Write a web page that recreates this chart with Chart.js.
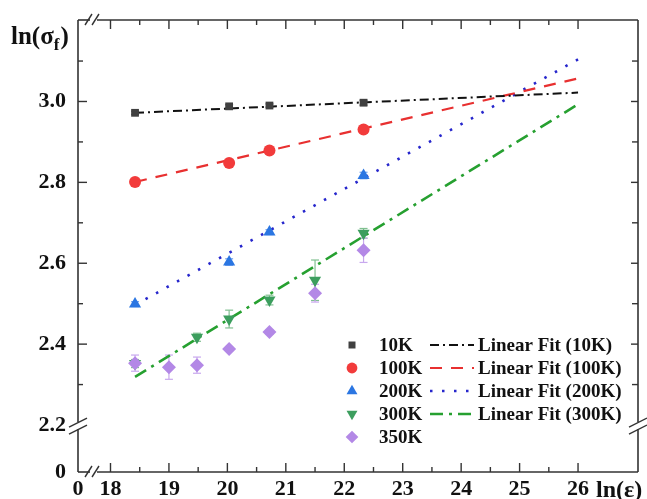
<!DOCTYPE html>
<html><head><meta charset="utf-8">
<script src="https://cdn.jsdelivr.net/npm/chart.js@4.4.1/dist/chart.umd.min.js"></script>
<style>html,body{margin:0;padding:0;background:#fff;overflow:hidden}#wrap{width:647px;height:499px;position:relative}</style>
</head><body><div id="wrap"><canvas id="c" width="647" height="499"></canvas></div>
<script>
// ---------- data ----------
const seriesNames = ['10K', '100K', '200K', '300K', '350K'];
const strainX    = [18.42, 20.03, 20.72, 22.33];
const strainX300 = [18.42, 19.48, 20.03, 20.72, 21.50, 22.33];
const strainX350 = [18.42, 19.00, 19.48, 20.03, 20.72, 21.50, 22.33];
const s10K  = [2.972, 2.988, 2.990, 2.997];
const s100K = [2.801, 2.848, 2.879, 2.931];
const s200K = [2.499, 2.603, 2.677, 2.817];
const s300K = [2.352, 2.417, 2.462, 2.509, 2.558, 2.674];
const s350K = [2.353, 2.343, 2.348, 2.388, 2.430, 2.526, 2.632];
const e10K  = [0.004, 0.004, 0.004, 0.006];
const e100K = [0.005, 0.005, 0.005, 0.006];
const e200K = [0.006, 0.008, 0.006, 0.008];
const e300K = [0.010, 0.010, 0.022, 0.012, 0.050, 0.012];
const e350K = [0.020, 0.030, 0.020, 0.006, 0.006, 0.022, 0.030];
const fitNames = ['Linear Fit (10K)', 'Linear Fit (100K)', 'Linear Fit (200K)', 'Linear Fit (300K)'];
const fitX    = [18.42, 26.0];
const fit10K  = [2.972, 3.022];
const fit100K = [2.801, 3.057];
const fit200K = [2.497, 3.104];
const fit300K = [2.319, 2.993];
const xTicks = [18, 19, 20, 21, 22, 23, 24, 25, 26];
const xMinorTicks = [18.5, 19.5, 20.5, 21.5, 22.5, 23.5, 24.5, 25.5];
const yTicks = [2.2, 2.4, 2.6, 2.8, 3.0];
const yMinorTicks = [2.3, 2.5, 2.7, 2.9, 3.1];
const axisBreakLabel = '0';
const xRange = [17.444, 27.026];
const yRange = [2.0838, 3.2015];

// ---------- styles ----------
const FONT = "'Liberation Serif','Times New Roman',serif";
const markerStyles = [
  {color: '#404040', style: 'rect', radius: 5.5, rot: 0},
  {color: '#f23b3b', style: 'circle', radius: 6, rot: 0},
  {color: '#2b76e2', style: 'triangle', radius: 7, rot: 0},
  {color: '#3c9e5e', style: 'triangle', radius: 7, rot: 180},
  {color: '#b388e6', style: 'rectRot', radius: 7, rot: 0}
];
const fitStyles = [
  {color: '#111111', dash: [9, 4, 2, 4], width: 2},
  {color: '#e83030', dash: [12, 9], width: 2.2},
  {color: '#2626cc', dash: [2.5, 9.5], width: 2.6},
  {color: '#26a030', dash: [13, 6, 3, 6], width: 2.6}
];
const errColors = ['#707070', '#f07070', '#70a0ee', '#80c090', '#c8a8ee'];

const xs = [strainX, strainX, strainX, strainX300, strainX350];
const ys = [s10K, s100K, s200K, s300K, s350K];
const es = [e10K, e100K, e200K, e300K, e350K];
const fits = [fit10K, fit100K, fit200K, fit300K];

const datasets = [];
seriesNames.forEach((n, i) => {
  const m = markerStyles[i];
  datasets.push({
    type: 'scatter', label: n,
    data: xs[i].map((x, j) => ({x: x, y: ys[i][j]})),
    pointStyle: m.style, pointRadius: m.radius, pointRotation: m.rot,
    backgroundColor: m.color, borderColor: m.color, pointBorderWidth: 0,
    order: 4 - i, errIdx: i
  });
});
fitNames.forEach((n, i) => {
  const f = fitStyles[i];
  datasets.push({
    type: 'line', label: n,
    data: fitX.map((x, j) => ({x: x, y: fits[i][j]})),
    borderColor: f.color, borderWidth: f.width, borderDash: f.dash,
    pointRadius: 0, fill: false, tension: 0, order: 10 + i
  });
});

function drawSeg(ctx, x1, y1, x2, y2) { ctx.beginPath(); ctx.moveTo(x1, y1); ctx.lineTo(x2, y2); ctx.stroke(); }

const errorBars = {
  id: 'errorBars',
  beforeDatasetsDraw(chart) {
    const ctx = chart.ctx, xS = chart.scales.x, yS = chart.scales.y;
    ctx.save(); ctx.lineWidth = 1.2;
    chart.data.datasets.forEach(ds => {
      if (ds.errIdx === undefined) return;
      const i = ds.errIdx;
      ctx.strokeStyle = errColors[i];
      xs[i].forEach((xv, j) => {
        const px = xS.getPixelForValue(xv);
        const y1 = yS.getPixelForValue(ys[i][j] + es[i][j]);
        const y2 = yS.getPixelForValue(ys[i][j] - es[i][j]);
        drawSeg(ctx, px, y1, px, y2);
        drawSeg(ctx, px - 4, y1, px + 4, y1);
        drawSeg(ctx, px - 4, y2, px + 4, y2);
      });
    });
    ctx.restore();
  }
};

const frame = {
  id: 'frame',
  afterDraw(chart) {
    const ctx = chart.ctx, a = chart.chartArea, xS = chart.scales.x, yS = chart.scales.y;
    const L = a.left, R = a.right, T = a.top, B = a.bottom;
    ctx.save();
    ctx.strokeStyle = '#333'; ctx.lineWidth = 1.6; ctx.lineCap = 'butt';
    const bx = L + 15;
    const by = yS.getPixelForValue(yTicks[0]);
    drawSeg(ctx, L, T, bx - 3, T); drawSeg(ctx, bx + 4, T, R, T);
    drawSeg(ctx, L, B, bx - 3, B); drawSeg(ctx, bx + 4, B, R, B);
    drawSeg(ctx, L, T, L, by - 3); drawSeg(ctx, L, by + 4, L, B);
    drawSeg(ctx, R, T, R, by - 3); drawSeg(ctx, R, by + 4, R, B);
    ctx.lineWidth = 1.4;
    [T, B].forEach(yy => {
      drawSeg(ctx, bx - 8, yy + 5, bx - 1, yy - 6);
      drawSeg(ctx, bx - 1, yy + 5, bx + 6, yy - 6);
    });
    [L, R].forEach(xx => {
      drawSeg(ctx, xx - 9, by + 2, xx + 9, by - 7);
      drawSeg(ctx, xx - 9, by + 9, xx + 9, by + 0);
    });
    xTicks.forEach(v => { const p = xS.getPixelForValue(v); drawSeg(ctx, p, B, p, B - 9); drawSeg(ctx, p, T, p, T + 9); });
    xMinorTicks.forEach(v => { const p = xS.getPixelForValue(v); drawSeg(ctx, p, B, p, B - 5); drawSeg(ctx, p, T, p, T + 5); });
    yTicks.slice(1).forEach(v => { const p = yS.getPixelForValue(v); drawSeg(ctx, L, p, L + 9, p); drawSeg(ctx, R, p, R - 7, p); });
    yMinorTicks.forEach(v => { const p = yS.getPixelForValue(v); drawSeg(ctx, L, p, L + 5, p); drawSeg(ctx, R, p, R - 6, p); });
    ctx.fillStyle = '#111'; ctx.textBaseline = 'alphabetic'; ctx.textAlign = 'left';
    ctx.font = 'bold 25px ' + FONT;
    let tx = 11;
    ctx.fillText('ln(σ', tx, 44); tx += ctx.measureText('ln(σ').width;
    ctx.font = 'bold 17px ' + FONT;
    ctx.fillText('f', tx, 50); tx += ctx.measureText('f').width + 1;
    ctx.font = 'bold 25px ' + FONT;
    ctx.fillText(')', tx, 44);
    ctx.font = 'bold 24px ' + FONT;
    ctx.fillText('ln(ε)', 596, 497);
    const rowY = [345, 368, 391, 414, 437];
    ctx.font = 'bold 19px ' + FONT; ctx.textBaseline = 'middle';
    seriesNames.forEach((n, i) => {
      const m = markerStyles[i];
      ctx.fillStyle = m.color; ctx.strokeStyle = m.color;
      Chart.helpers.drawPoint(ctx, {pointStyle: m.style, radius: m.radius * 0.9, rotation: m.rot, borderWidth: 0}, 352, rowY[i]);
      ctx.fillStyle = '#111';
      ctx.fillText(n, 379, rowY[i] + 1);
    });
    fitNames.forEach((n, i) => {
      const f = fitStyles[i];
      ctx.save();
      ctx.strokeStyle = f.color; ctx.lineWidth = f.width; ctx.setLineDash(f.dash);
      drawSeg(ctx, 430, rowY[i], 474, rowY[i]);
      ctx.restore();
      ctx.fillStyle = '#111';
      ctx.fillText(n, 478, rowY[i] + 1);
    });
    ctx.restore();
  }
};

const tickFont = {family: FONT, weight: 'bold', size: 22};
new Chart(document.getElementById('c'), {
  data: {datasets: datasets},
  options: {
    responsive: false, animation: false,
    layout: {padding: {top: 20, right: 9, left: 0, bottom: 0}},
    plugins: {legend: {display: false}, tooltip: {enabled: false}},
    scales: {
      x: {
        type: 'linear', position: 'bottom', min: xRange[0], max: xRange[1],
        afterBuildTicks: s => { s.ticks = [xRange[0]].concat(xTicks).map(v => ({value: v})); },
        afterFit: s => { s.height = 27; s.paddingLeft = 0; s.paddingRight = 0; },
        grid: {display: false, drawTicks: false}, border: {display: false},
        ticks: {autoSkip: false, maxRotation: 0, padding: 4, color: '#111', font: tickFont,
          callback: (v, idx) => idx === 0 ? axisBreakLabel : String(v)}
      },
      y: {
        type: 'linear', position: 'left', min: yRange[0], max: yRange[1],
        afterBuildTicks: s => { s.ticks = [yRange[0]].concat(yTicks).map(v => ({value: v})); },
        afterFit: s => { s.width = 78; s.paddingTop = 0; s.paddingBottom = 0; },
        grid: {display: false, drawTicks: false}, border: {display: false},
        ticks: {autoSkip: false, padding: 12, color: '#111', font: tickFont,
          callback: (v, idx) => idx === 0 ? axisBreakLabel : Number(v).toFixed(1)}
      }
    }
  },
  plugins: [errorBars, frame]
});
</script></body></html>
